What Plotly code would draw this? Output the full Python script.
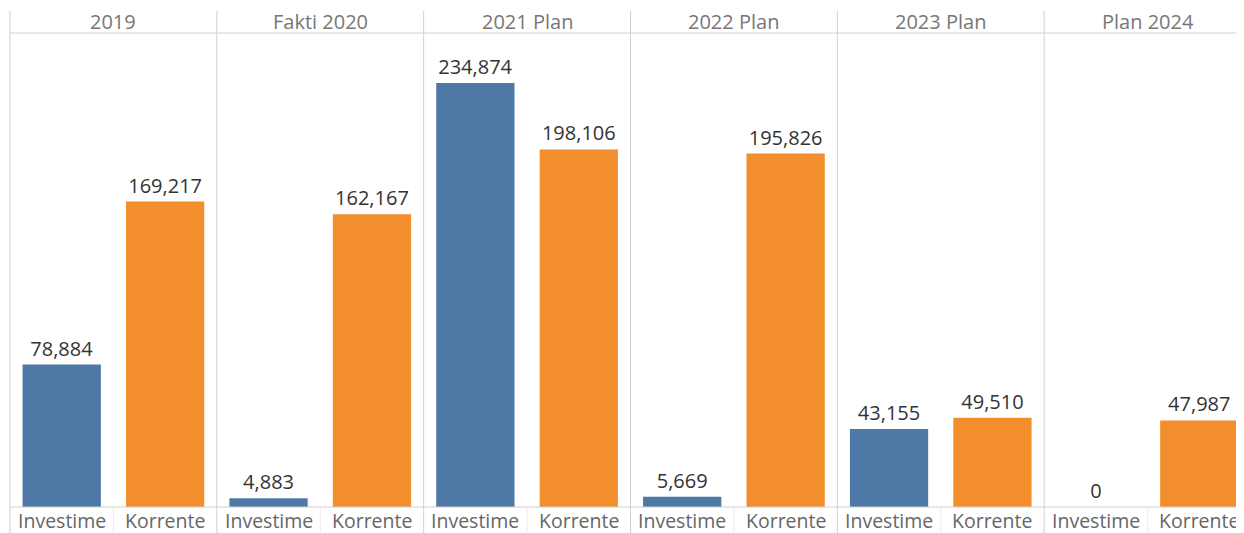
import plotly.graph_objects as go
from plotly.subplots import make_subplots

periods = ["2019", "Fakti 2020", "2021 Plan", "2022 Plan", "2023 Plan", "Plan 2024"]
categories = ["Investime", "Korrente"]
investime = [78884, 4883, 234874, 5669, 43155, 0]
korrente = [169217, 162167, 198106, 195826, 49510, 47987]

colors = {"Investime": "#4E79A7", "Korrente": "#F28E2B"}
FONT = "Open Sans"

n = len(periods)
fig = make_subplots(rows=1, cols=n, horizontal_spacing=0, shared_yaxes=True)

for i, p in enumerate(periods):
    vals = [investime[i], korrente[i]]
    fig.add_trace(
        go.Bar(
            x=categories,
            y=vals,
            marker=dict(color=[colors[c] for c in categories], line=dict(width=0)),
            text=[f"{v:,}" for v in vals],
            textposition="outside",
            textfont=dict(family=FONT, size=20, color="#333333"),
            constraintext="none",
            cliponaxis=False,
            showlegend=False,
            hoverinfo="skip",
        ),
        row=1, col=i + 1,
    )

# page is offset by an 8px body margin; work in page pixels
OFF = 8
TOP, BASE = 33, 507
H_PLOT = float(BASE - TOP)
def py(px):
    return (BASE - px) / H_PLOT

shapes = []
annotations = []
for i, p in enumerate(periods):
    x0 = i / n
    shapes.append(dict(type="line", xref="paper", yref="paper", x0=x0, x1=x0,
                       y0=py(11), y1=py(545), line=dict(color="#d0d0d0", width=1)))
    xm = (i + 0.5) / n
    shapes.append(dict(type="line", xref="paper", yref="paper", x0=xm, x1=xm,
                       y0=0, y1=py(545), line=dict(color="#ececec", width=1)))
    annotations.append(dict(text=p, xref="paper", yref="paper", x=xm, y=py(22),
                            xanchor="center", yanchor="middle", showarrow=False,
                            font=dict(family=FONT, size=20, color="#777777")))
    axname = "x" if i == 0 else f"x{i+1}"
    for c in categories:
        annotations.append(dict(text=c, xref=axname, yref="paper", x=c, y=py(520),
                                xanchor="center", yanchor="middle", showarrow=False,
                                font=dict(family=FONT, size=19.5, color="#666666")))

shapes.append(dict(type="line", xref="paper", yref="paper", x0=0, x1=1, y0=1, y1=1,
                   line=dict(color="#d0d0d0", width=1)))
shapes.append(dict(type="line", xref="paper", yref="paper", x0=0, x1=1, y0=0, y1=0,
                   line=dict(color="#d0d0d0", width=1)))

fig.update_layout(
    width=1244, height=533,
    margin=dict(l=10 - OFF, r=1, t=TOP - OFF, b=533 - (BASE - OFF)),
    paper_bgcolor="white", plot_bgcolor="white",
    bargap=0.243,
    shapes=shapes,
    annotations=annotations,
    font=dict(family=FONT),
)
fig.update_xaxes(showticklabels=False, showgrid=False, zeroline=False, showline=False, ticks="")
fig.update_yaxes(range=[0, 262600], showticklabels=False, showgrid=False, zeroline=False,
                 showline=False, ticks="")

fig.write_html("out.html")
